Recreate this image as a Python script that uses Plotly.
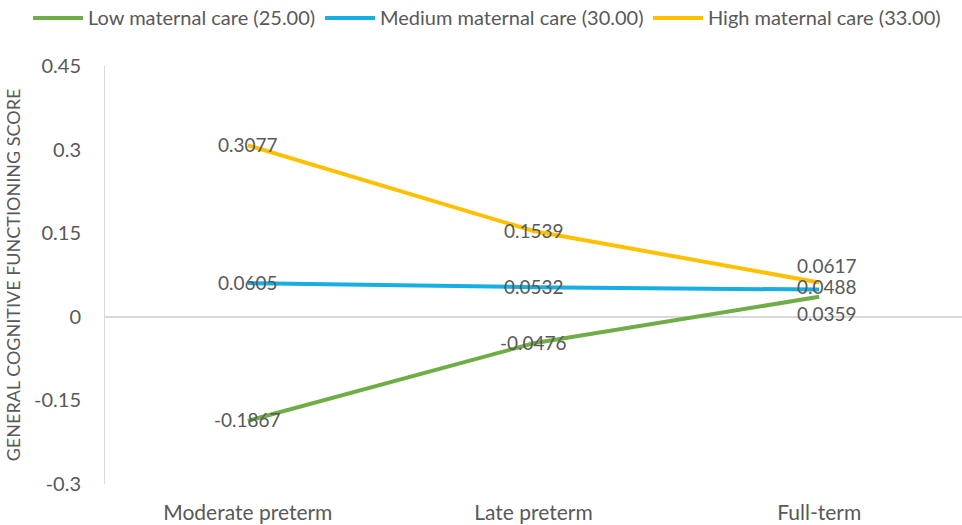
import plotly.graph_objects as go

categories = ["Moderate preterm", "Late preterm", "Full-term"]
low_care = [-0.1867, -0.0476, 0.0359]
medium_care = [0.0605, 0.0532, 0.0488]
high_care = [0.3077, 0.1539, 0.0617]
series_names = ["Low maternal care (25.00)", "Medium maternal care (30.00)", "High maternal care (33.00)"]
series_colors = ["#70AD47", "#16AEE3", "#FFC000"]
y_ticks = [-0.3, -0.15, 0, 0.15, 0.3, 0.45]
y_tick_text = ["-0.3", "-0.15", "0", "0.15", "0.3", "0.45"]

FONT = "Lato, 'Open Sans', sans-serif"
TEXT_COLOR = "#595959"

W, H = 962, 525
M_L, M_R, M_T, M_B = 105, 0, 66, 41
PLOT_W = W - M_L - M_R
PLOT_H = H - M_T - M_B


def px_to_paper_x(px):
    return (px - M_L) / PLOT_W


def px_to_paper_y(py):
    return (H - M_B - py) / PLOT_H


fig = go.Figure()
all_series = [low_care, medium_care, high_care]
for name, vals, col in zip(series_names, all_series, series_colors):
    fig.add_trace(go.Scatter(
        x=categories, y=vals, name=name, mode="lines",
        line=dict(color=col, width=4), showlegend=False,
    ))

# data labels; full-term labels are nudged apart so they don't collide
shifts = {
    (0, 2): (8, -17), (1, 2): (8, 3), (2, 2): (8, 17),
}
annotations = []
for si, vals in enumerate(all_series):
    for ci, v in enumerate(vals):
        dx, dy = shifts.get((si, ci), (0, 1))
        annotations.append(dict(
            x=categories[ci], y=v, xref="x", yref="y",
            text=f"{v:.4f}", showarrow=False,
            xshift=dx, yshift=dy,
            font=dict(family=FONT, size=19, color=TEXT_COLOR),
        ))

# top legend: long line swatch followed by the series name
legend_starts = [33, 325, 653]
swatch_len = 50
legend_y = 17
shapes = []
for name, col, x0 in zip(series_names, series_colors, legend_starts):
    shapes.append(dict(
        type="line", xref="paper", yref="paper",
        x0=px_to_paper_x(x0), x1=px_to_paper_x(x0 + swatch_len),
        y0=px_to_paper_y(legend_y + 1), y1=px_to_paper_y(legend_y + 1),
        line=dict(color=col, width=4),
    ))
    annotations.append(dict(
        x=px_to_paper_x(x0 + swatch_len + 3), y=px_to_paper_y(legend_y),
        xref="paper", yref="paper", xanchor="left", yanchor="middle",
        text=name, showarrow=False,
        font=dict(family=FONT, size=20, color=TEXT_COLOR),
    ))

fig.update_layout(
    width=W, height=H,
    margin=dict(l=M_L, r=M_R, t=M_T, b=M_B),
    paper_bgcolor="white", plot_bgcolor="white",
    font=dict(family=FONT, size=19, color=TEXT_COLOR),
    annotations=annotations, shapes=shapes, showlegend=False,
    xaxis=dict(
        type="category", range=[-0.5, 2.5], showgrid=False,
        showline=False, zeroline=False, ticks="", ticklabelstandoff=14,
        tickfont=dict(family=FONT, size=21, color=TEXT_COLOR),
    ),
    yaxis=dict(
        range=[-0.3, 0.45], tickvals=y_ticks, ticktext=y_tick_text,
        showgrid=False, zeroline=True, zerolinecolor="#D9D9D9", zerolinewidth=2,
        showline=True, linecolor="#D9D9D9", linewidth=1, ticks="",
        ticklabelstandoff=19,
        tickfont=dict(family=FONT, size=20, color=TEXT_COLOR),
        title=dict(text="GENERAL COGNITIVE FUNCTIONING SCORE",
                   font=dict(family=FONT, size=18, color=TEXT_COLOR), standoff=8),
    ),
)

fig.write_html("out.html")
